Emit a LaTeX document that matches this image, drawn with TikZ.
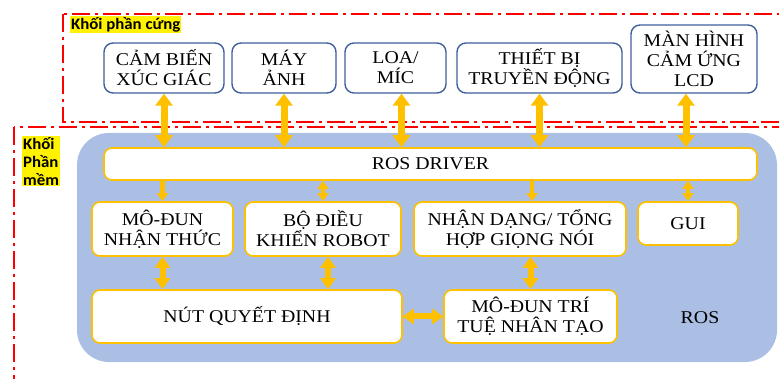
\documentclass[tikz,border=0pt]{standalone}
\usepackage{fontspec}
\setmainfont{Liberation Serif}[FakeStretch=1.1]
\newfontfamily\labelfont{Carlito}[FakeStretch=1.05]
\usetikzlibrary{arrows.meta}

\definecolor{rosblue}{HTML}{AABFE3}
\definecolor{boxblue}{HTML}{40609A}
\definecolor{arrorange}{HTML}{FFC000}
\definecolor{dashred}{HTML}{FF0000}

\begin{document}
\begin{tikzpicture}[x=1pt, y=-1pt,
  redline/.style={dashred, line width=2.2pt, dash pattern=on 18pt off 5pt on 3pt off 5pt},
  hwbox/.style={draw=boxblue, line width=1.4pt, fill=white, rounded corners=9pt, inner sep=0pt,
    align=center, font=\fontsize{18}{20}\selectfont},
  swbox/.style={draw=arrorange, line width=1.6pt, fill=white, rounded corners=8pt, inner sep=0pt,
    align=center, font=\fontsize{18}{20}\selectfont},
  tag/.style={fill=yellow, inner sep=1pt, align=left, font=\labelfont\bfseries\fontsize{16}{18}\selectfont},
  bigarr/.style={arrorange, line width=7pt, {Triangle[width=17pt,length=12pt]}-{Triangle[width=17pt,length=12pt]}},
  midarr/.style={arrorange, line width=6pt, {Triangle[width=15pt,length=11pt]}-{Triangle[width=15pt,length=11pt]}},
  smallarr/.style={arrorange, line width=4.5pt, {Triangle[width=11pt,length=8pt]}-{Triangle[width=11pt,length=8pt]}},
  downarr/.style={arrorange, line width=4.5pt, -{Triangle[width=11pt,length=8pt]}}]
\useasboundingbox (0,0) rectangle (779,379);

% Khung phan cung / phan mem
\draw[redline] (63,14) rectangle (790,122);
\draw[redline] (14,127) rectangle (790,390);
\node[tag, anchor=north west] (hwtag) at (70,16) {Khối phần cứng};
\node[tag, anchor=north west] (swtag) at (22,136) {Khối\\Phần\\mềm};

% Vung ROS
\fill[rosblue, rounded corners=32pt] (77,133) rectangle (777,362);
\node[font=\fontsize{18}{20}\selectfont] (roslbl) at (700,318) {ROS};

% Phan cung
\node[hwbox, minimum width=120pt, minimum height=50pt] (cbxg) at (164,68) {CẢM BIẾN\\XÚC GIÁC};
\node[hwbox, minimum width=104pt, minimum height=50pt] (mayanh) at (284,68) {MÁY\\ẢNH};
\node[hwbox, minimum width=101pt, minimum height=50pt] (loamic) at (395.5,68) {LOA/\\MÍC};
\node[hwbox, minimum width=165pt, minimum height=50pt] (tbtd) at (539.5,68) {THIẾT BỊ\\TRUYỀN ĐỘNG};
\node[hwbox, minimum width=126pt, minimum height=68pt] (lcd) at (694,59) {MÀN HÌNH\\CẢM ỨNG\\LCD};

% Phan mem
\node[swbox, minimum width=653pt, minimum height=32pt] (driver) at (430.5,164) {ROS DRIVER};
\node[swbox, minimum width=141pt, minimum height=54pt] (nhanthuc) at (162.5,229) {MÔ-ĐUN\\NHẬN THỨC};
\node[swbox, minimum width=156pt, minimum height=54pt] (dieukhien) at (323,229) {BỘ ĐIỀU\\KHIỂN ROBOT};
\node[swbox, minimum width=212pt, minimum height=54pt] (giongnoi) at (520,229) {NHẬN DẠNG/ TỔNG\\HỢP GIỌNG NÓI};
\node[swbox, minimum width=100pt, minimum height=43pt] (gui) at (688,223.5) {GUI};
\node[swbox, minimum width=310pt, minimum height=53pt] (quyetdinh) at (247,316.5) {NÚT QUYẾT ĐỊNH};
\node[swbox, minimum width=173pt, minimum height=53pt] (tritue) at (530.5,316.5) {MÔ-ĐUN TRÍ\\TUỆ NHÂN TẠO};

% Mui ten phan cung - driver
\draw[bigarr] (cbxg.south) -- (cbxg.south |- driver.north);
\draw[bigarr] (mayanh.south) -- (mayanh.south |- driver.north);
\draw[bigarr] ([xshift=6pt]loamic.south) -- ([xshift=6pt]loamic.south |- driver.north);
\draw[bigarr] (tbtd.south) -- (tbtd.south |- driver.north);
\draw[bigarr] ([xshift=-8pt]lcd.south) -- ([xshift=-8pt]lcd.south |- driver.north);

% Mui ten driver - hang 2
\draw[downarr] (nhanthuc.north |- driver.south) -- (nhanthuc.north);
\draw[smallarr] (dieukhien.north |- driver.south) -- (dieukhien.north);
\draw[downarr] ([xshift=12pt]giongnoi.north |- driver.south) -- ([xshift=12pt]giongnoi.north);
\draw[smallarr] (gui.north |- driver.south) -- (gui.north);

% Mui ten hang 2 - hang 3
\draw[midarr] (nhanthuc.south) -- (nhanthuc.south |- quyetdinh.north);
\draw[midarr] ([xshift=5pt]dieukhien.south) -- ([xshift=5pt]dieukhien.south |- quyetdinh.north);
\draw[midarr] (tritue.north) -- (tritue.north |- giongnoi.south);
\draw[midarr] (quyetdinh.east) -- (tritue.west);
\end{tikzpicture}
\end{document}
